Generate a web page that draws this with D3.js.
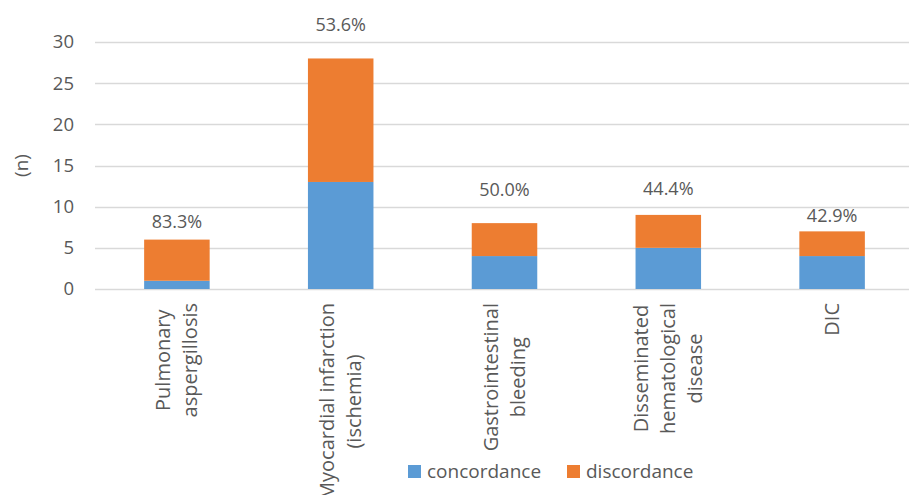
<!DOCTYPE html>
<html>
<head>
<meta charset="utf-8">
<script src="https://cdn.jsdelivr.net/npm/d3@7"></script>
<style>
  body { margin: 0; background: #fff; }
  svg text { font-family: "Open Sans", "Noto Sans", sans-serif; fill: #595959; }
</style>
</head>
<body>
<div id="chart"></div>
<script>
const categories = [
    ["Pulmonary", "aspergillosis"],
    ["Myocardial infarction", "(ischemia)"],
    ["Gastrointestinal", "bleeding"],
    ["Disseminated", "hematological", "disease"],
    ["DIC"]
];
const concordance = [1, 13, 4, 5, 4];
const discordance = [5, 15, 4, 4, 3];
const pctLabels = ["83.3%", "53.6%", "50.0%", "44.4%", "42.9%"];
const yTicks = [0, 5, 10, 15, 20, 25, 30];
const seriesNames = ["concordance", "discordance"];

const colors = { concordance: "#5b9bd5", discordance: "#ed7d31" };
// gap between bar top and its percentage label (labels were placed by hand)
const pctGap = [12, 27, 27, 20, 9];

const dims = { width: 909, height: 495, left: 95, right: 914, top: 42, bottom: 289 };

const rows = categories.map((c, i) => ({
    index: i,
    concordance: concordance[i],
    discordance: discordance[i]
}));
const stacked = d3.stack().keys(seriesNames)(rows);

const x = d3.scaleBand()
    .domain(d3.range(categories.length))
    .range([dims.left, dims.right])
    .paddingInner(0.6)
    .paddingOuter(0.3);
const y = d3.scaleLinear()
    .domain([0, 30])
    .range([dims.bottom, dims.top]);

const svg = d3.select("#chart")
    .append("svg")
    .attr("width", dims.width)
    .attr("height", dims.height);

// gridlines
svg.append("g")
    .selectAll("line")
    .data(yTicks)
    .join("line")
    .attr("x1", dims.left)
    .attr("x2", dims.width)
    .attr("y1", d => Math.round(y(d)) + 0.5)
    .attr("y2", d => Math.round(y(d)) + 0.5)
    .attr("stroke", "#d9d9d9")
    .attr("stroke-width", 1.3);

// y axis
svg.append("g")
    .attr("transform", `translate(${dims.left - 21},0)`)
    .call(d3.axisLeft(y).tickValues(yTicks).tickSize(0).tickPadding(0))
    .call(g => g.select(".domain").remove())
    .call(g => g.selectAll(".tick text")
        .attr("font-size", 18.5)
        .attr("font-family", null)
        .attr("fill", "#595959"));

svg.append("text")
    .attr("transform", `translate(28,${(dims.top + dims.bottom) / 2}) rotate(-90)`)
    .attr("text-anchor", "middle")
    .attr("font-size", 19)
    .text("(n)");

// bars
svg.append("g")
    .selectAll("g")
    .data(stacked)
    .join("g")
    .attr("fill", s => colors[s.key])
    .selectAll("rect")
    .data(s => s)
    .join("rect")
    .attr("x", d => x(d.data.index))
    .attr("y", d => y(d[1]))
    .attr("width", x.bandwidth())
    .attr("height", d => y(d[0]) - y(d[1]));

// percentage labels
svg.append("g")
    .selectAll("text")
    .data(rows)
    .join("text")
    .attr("text-anchor", "middle")
    .attr("font-size", 18)
    .attr("x", d => x(d.index) + x.bandwidth() / 2)
    .attr("y", d => y(d.concordance + d.discordance) - pctGap[d.index])
    .text(d => pctLabels[d.index]);

// category labels, rotated
const lineGap = 27;
const labelTop = 303;
const catG = svg.append("g")
    .selectAll("g")
    .data(categories)
    .join("g");
catG.each(function (lines, i) {
    const g = d3.select(this);
    const cx = x(i) + x.bandwidth() / 2;
    const texts = g.selectAll("text")
        .data(lines)
        .join("text")
        .attr("font-size", 20)
        .attr("text-anchor", "middle")
        .attr("dy", "0.35em")
        .text(d => d);
    const maxLen = d3.max(texts.nodes(), n => n.getComputedTextLength());
    texts.attr("transform", (d, j) => {
        const lx = cx + (j - (lines.length - 1) / 2) * lineGap;
        return `translate(${lx},${labelTop + maxLen / 2}) rotate(-90)`;
    });
});

// legend
const legend = svg.append("g")
    .selectAll("g")
    .data(seriesNames)
    .join("g")
    .attr("transform", (d, i) => `translate(${i === 0 ? 408 : 567},465)`);
legend.append("rect")
    .attr("width", 13)
    .attr("height", 13)
    .attr("fill", d => colors[d]);
legend.append("text")
    .attr("x", 19)
    .attr("y", 13)
    .attr("font-size", 19)
    .text(d => d);
</script>
</body>
</html>
